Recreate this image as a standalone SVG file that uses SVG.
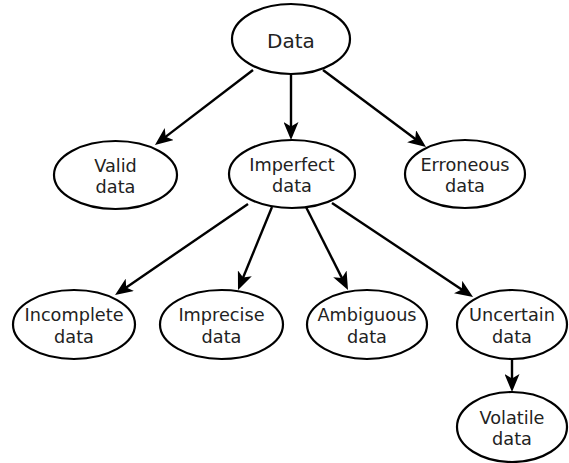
<svg xmlns="http://www.w3.org/2000/svg" width="569" height="463" viewBox="0 0 569 463">
  <style>
    .node ellipse { fill: #ffffff; stroke: #000000; stroke-width: 2.2; }
    .node text { font-family: "DejaVu Sans", "Liberation Sans", sans-serif; font-size: 17.7px; fill: #222222; text-anchor: middle; }
    #data text { font-size: 20px; }
    .edges line { stroke: #000000; stroke-width: 2.4; marker-end: url(#arrow); }
  </style>
  <defs>
    <marker id="arrow" viewBox="0 0 18 15" markerUnits="userSpaceOnUse" markerWidth="18" markerHeight="15" refX="8" refY="7.5" orient="auto">
      <path d="M18,7.5 L0,0 L4.5,7.5 L0,15 Z" fill="#000000"/>
    </marker>
  </defs>

  <!-- connectors: each line stops 10px short of the tip; the marker completes it -->
  <g class="edges">
    <line x1="253" y1="70" x2="162.9" y2="138.9"/>
    <line x1="291" y1="75" x2="291" y2="130"/>
    <line x1="323" y1="70" x2="418" y2="141"/>
    <line x1="248" y1="204" x2="123.3" y2="289.4"/>
    <line x1="272" y1="207" x2="241.8" y2="280.7"/>
    <line x1="306" y1="207" x2="343.5" y2="281.1"/>
    <line x1="332" y1="203" x2="464.7" y2="291.5"/>
    <line x1="512" y1="359" x2="512" y2="382"/>
  </g>

  <g id="data" class="node">
    <ellipse cx="291" cy="39" rx="59" ry="35"/>
    <text x="291" y="48">Data</text>
  </g>
  <g id="valid" class="node">
    <ellipse cx="115.5" cy="175" rx="61.5" ry="34"/>
    <text x="115.5" y="172">Valid</text>
    <text x="115.5" y="193">data</text>
  </g>
  <g id="imperfect" class="node">
    <ellipse cx="292" cy="174" rx="63" ry="34"/>
    <text x="292" y="171">Imperfect</text>
    <text x="292" y="192">data</text>
  </g>
  <g id="erroneous" class="node">
    <ellipse cx="465" cy="174" rx="60" ry="34"/>
    <text x="465" y="171">Erroneous</text>
    <text x="465" y="192">data</text>
  </g>
  <g id="incomplete" class="node">
    <ellipse cx="74" cy="324.5" rx="61" ry="34.5"/>
    <text x="74" y="321">Incomplete</text>
    <text x="74" y="343">data</text>
  </g>
  <g id="imprecise" class="node">
    <ellipse cx="221.5" cy="324.5" rx="61.5" ry="34.5"/>
    <text x="221.5" y="321">Imprecise</text>
    <text x="221.5" y="343">data</text>
  </g>
  <g id="ambiguous" class="node">
    <ellipse cx="367" cy="324.5" rx="60" ry="34.5"/>
    <text x="367" y="321">Ambiguous</text>
    <text x="367" y="343">data</text>
  </g>
  <g id="uncertain" class="node">
    <ellipse cx="512" cy="324.5" rx="55" ry="34.5"/>
    <text x="512" y="321">Uncertain</text>
    <text x="512" y="343">data</text>
  </g>
  <g id="volatile" class="node">
    <ellipse cx="512" cy="427" rx="55" ry="35"/>
    <text x="512" y="424">Volatile</text>
    <text x="512" y="445">data</text>
  </g>
</svg>
